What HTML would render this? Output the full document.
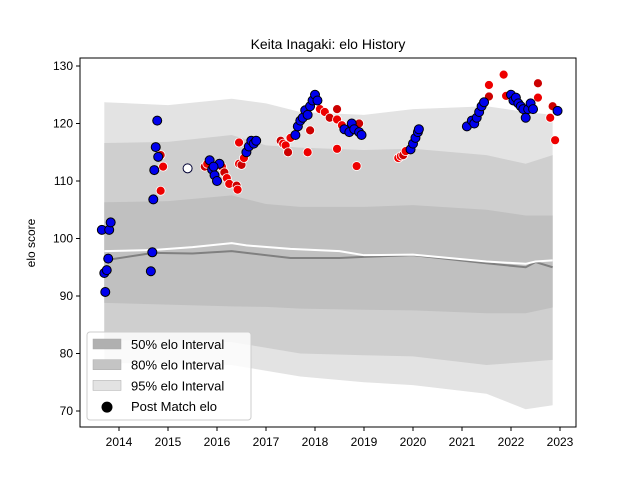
<!DOCTYPE html>
<html><head><meta charset="utf-8"><style>
body{margin:0;background:#fff}
svg{display:block;font-family:"Liberation Sans","DejaVu Sans",sans-serif}
</style></head><body>
<svg id="chart" width="640" height="480">
<text x="328" y="49" text-anchor="middle" font-size="14">Keita Inagaki: elo History</text>
<g id="plot"></g>
<g id="axes"></g>
</svg>
<script>
const bandYears=[2013.7,2015,2016.3,2017,2017.7,2019,2020,2021.5,2022.3,2022.85];
const upper95=[123.7,123.2,124.3,123.5,122,121.5,122.5,123,122,121.5];
const lower95=[78.3,78.3,78,77,76,75,74.5,73,70.3,71];
const upper80=[116.6,116.8,118,116.2,115.8,115.4,115.6,114.5,113,114.5];
const lower80=[82.3,82.3,82,81,80,79.7,79.5,78,78.5,78.9];
const upper50=[106.3,106.5,107.5,106,105.5,105.5,105.8,105,104,104];
const lower50=[88.8,88.5,88.2,88.1,87.8,87.6,87.5,87,87,88];
const meanYears=[2013.7,2014.7,2015.5,2016.3,2016.6,2017.5,2018.5,2019,2020,2021.5,2022.3,2022.5,2022.85];
const whiteLine=[97.8,98,98.5,99.2,98.8,98.2,97.8,97.1,97.2,96,95.6,96,96.2];
const grayLine=[96.2,97.5,97.4,97.8,97.5,96.6,96.6,96.8,97.1,95.7,95,95.9,95];
const blueYears=[2013.65,2013.7,2013.72,2013.75,2013.78,2013.8,2013.83,2014.65,2014.68,2014.7,2014.72,2014.75,2014.8,2014.78,2015.85,2015.9,2015.95,2016,2016.05,2015.93,2016.6,2016.65,2016.7,2016.75,2016.8,2017.6,2017.65,2017.7,2017.75,2017.8,2017.85,2017.9,2017.95,2018,2018.05,2018.6,2018.7,2018.75,2018.8,2018.9,2018.95,2019.95,2020,2020.05,2020.1,2020.12,2021.1,2021.2,2021.25,2021.3,2021.35,2021.4,2021.45,2022,2022.05,2022.1,2022.15,2022.2,2022.25,2022.3,2022.35,2022.4,2022.45,2022.95];
const blueElo=[101.5,94,90.7,94.5,96.5,101.5,102.8,94.3,97.6,106.8,111.9,115.9,114.2,120.5,113.6,112,111,110,113,112.5,115,116,117,116.5,117,118,119.5,120.5,121,122.3,121.5,123,124,125,124,119,118.5,120,119,118.5,118,115.5,116.5,117.5,118.5,119,119.5,120.5,120,121,122,123,123.7,125,124,124.5,123.5,123,122.5,121,122.5,123.5,122.5,122.2];
const whiteYears=[2015.4];
const whiteElo=[112.2];
const redYears=[2014.85,2014.9,2014.85,2015.75,2015.8,2016.1,2016.15,2016.2,2016.25,2016.4,2016.42,2016.45,2016.5,2016.55,2016.45,2017.3,2017.35,2017.4,2017.45,2017.5,2017.85,2017.9,2018.1,2018.2,2018.3,2018.45,2018.55,2018.45,2018.45,2018.85,2018.9,2019.7,2019.75,2019.8,2019.85,2021.55,2021.55,2021.85,2021.9,2022.55,2022.55,2022.8,2022.85,2022.9];
const redElo=[114.5,112.5,108.3,112.5,113,112.5,111.5,110.5,109.5,109.2,108.5,113,112.8,114,116.7,117,116.5,116.2,115,117.5,115,118.8,122.5,122,121,120.7,119.7,122.5,115.6,112.6,120,114,114.3,114.5,115.2,126.7,124.7,128.5,124.8,127,124.5,121,123,117.1];
const xTicks=[2014,2015,2016,2017,2018,2019,2020,2021,2022,2023];
const yTicks=[70,80,90,100,110,120,130];

const L=80,R=576,T=58,B=427;
const X=v=>119+(v-2014)*(560-119)/9;
const Y=v=>411-(v-70)*(411-66)/60;
const NS='http://www.w3.org/2000/svg';
const plot=document.getElementById('plot'),axes=document.getElementById('axes');
function mk(tag,attrs,parent){const e=document.createElementNS(NS,tag);for(const k in attrs)e.setAttribute(k,attrs[k]);parent.appendChild(e);return e;}
function band(up,lo,fill){
  let d='M'+bandYears.map((t,i)=>X(t)+','+Y(up[i])).join(' L');
  for(let i=bandYears.length-1;i>=0;i--)d+=' L'+X(bandYears[i])+','+Y(lo[i]);
  return mk('path',{d:d+'Z',fill:fill},plot);
}
let b=band(upper95,lower95,'#e3e3e3');


b=band(upper80,lower80,'#cfcfcf');


b=band(upper50,lower50,'#c0c0c0');


function line(vals,color){return mk('polyline',{points:meanYears.map((t,i)=>X(t)+','+Y(vals[i])).join(' '),fill:'none',stroke:color,'stroke-width':2},plot);}
let ln=line(grayLine,'#808080');


ln=line(whiteLine,'#ffffff');


redYears.forEach((t,i)=>{const c=mk('circle',{cx:X(t),cy:Y(redElo[i]),r:4.5,fill:i%3==0?'#cc0000':'#ee0000',stroke:'#fff','stroke-width':0.8},plot);

});
blueYears.forEach((t,i)=>{const c=mk('circle',{cx:X(t),cy:Y(blueElo[i]),r:4.5,fill:'#0000ee',stroke:'#000','stroke-width':1},plot);

});
whiteYears.forEach((t,i)=>{const c=mk('circle',{cx:X(t),cy:Y(whiteElo[i]),r:4.5,fill:'#fff',stroke:'#000033','stroke-width':1},plot);

});
mk('rect',{x:L,y:T,width:R-L,height:B-T,fill:'none',stroke:'#000','stroke-width':1},axes);
xTicks.forEach(t=>{const x=X(t);mk('line',{x1:x,x2:x,y1:B,y2:B+4,stroke:'#000'},axes);
const tx=mk('text',{x:x,y:B+19,'text-anchor':'middle','font-size':12},axes);tx.textContent=t;

});
yTicks.forEach(t=>{const y=Y(t);mk('line',{x1:L-4,x2:L,y1:y,y2:y,stroke:'#000'},axes);
const tx=mk('text',{x:L-7,y:y+4,'text-anchor':'end','font-size':12},axes);tx.textContent=t;

});
const yl=mk('text',{x:35,y:243,'text-anchor':'middle','font-size':12,transform:'rotate(-90 35 243)'},axes);yl.textContent='elo score';


const lg=mk('g',{},axes);


mk('rect',{x:87,y:332,width:164,height:88,rx:3,fill:'#fff','fill-opacity':0.8,stroke:'#ccc'},lg);
const items=[['50% elo Interval','#b0b0b0'],['80% elo Interval','#c4c4c4'],['95% elo Interval','#e3e3e3'],['Post Match elo',null]];
items.forEach((it,i)=>{const y=344+i*20.7;
 if(it[1])mk('rect',{x:93,y:y-5,width:28,height:10,fill:it[1],stroke:'#aaa','stroke-width':0.5},lg);
 else mk('circle',{cx:107,cy:y+1,r:5.5,fill:'#000'},lg);
 const tx=mk('text',{x:131,y:y+5,'font-size':13},lg);tx.textContent=it[0];
 
 });
</script>
</body></html>
